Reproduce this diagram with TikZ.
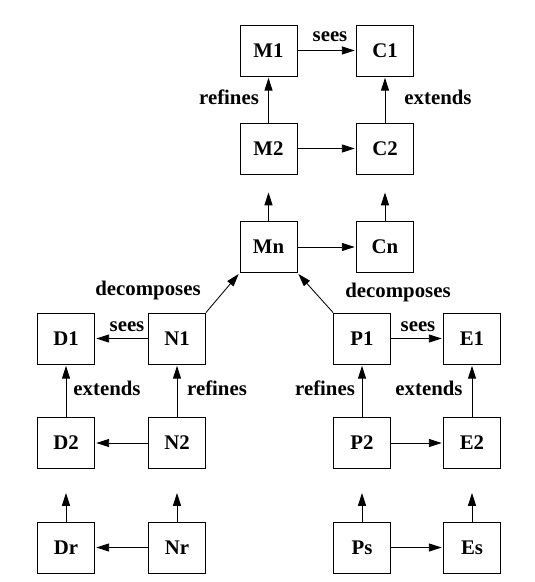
\documentclass[tikz,border=0pt]{standalone}
\usepackage{fontspec}
\setmainfont{Liberation Serif}
\usetikzlibrary{positioning, arrows.meta}

\begin{document}
\begin{tikzpicture}[x=0.025cm, y=-0.025cm,
    box/.style={draw, line width=0.6pt, minimum width=1.425cm, minimum height=1.275cm,
                inner sep=0pt, font=\fontsize{14.8}{17}\selectfont\bfseries},
    lbl/.style={inner sep=0pt, font=\fontsize{14.8}{17}\selectfont\bfseries},
    arr/.style={-{Triangle[length=0.32cm,width=0.2cm]}, line width=0.6pt, shorten >=1pt}]

    \useasboundingbox (0,0) rectangle (534,582);

    % Machine and context chain
    \node[box] (M1) at (268.5,50.5) {M1};
    \node[box] (C1) at (385,50.5) {C1};
    \node[box] (M2) at (268.5,148.5) {M2};
    \node[box] (C2) at (385,148.5) {C2};
    \node[box] (Mn) at (268.5,247) {Mn};
    \node[box] (Cn) at (385,247) {Cn};

    % Left branch
    \node[box] (D1) at (66,338.5) {D1};
    \node[box] (N1) at (177,338.5) {N1};
    \node[box] (D2) at (66,443) {D2};
    \node[box] (N2) at (177,443) {N2};
    \node[box] (Dr) at (66,547.5) {Dr};
    \node[box] (Nr) at (177,547.5) {Nr};

    % Right branch
    \node[box] (P1) at (362,338.5) {P1};
    \node[box] (E1) at (472,338.5) {E1};
    \node[box] (P2) at (362,443) {P2};
    \node[box] (E2) at (472,443) {E2};
    \node[box] (Ps) at (362,547.5) {Ps};
    \node[box] (Es) at (472,547.5) {Es};

    % Open ends above the last boxes
    \coordinate[above=0.75cm of Mn] (Mnup);
    \coordinate[above=0.75cm of Cn] (Cnup);
    \coordinate[above=0.75cm of Dr] (Drup);
    \coordinate[above=0.75cm of Nr] (Nrup);
    \coordinate[above=0.75cm of Ps] (Psup);
    \coordinate[above=0.75cm of Es] (Esup);

    % Horizontal arrows
    \draw[arr] (M1) -- (C1);
    \draw[arr] (M2) -- (C2);
    \draw[arr] (Mn) -- (Cn);
    \draw[arr] (N1) -- (D1);
    \draw[arr] (N2) -- (D2);
    \draw[arr] (Nr) -- (Dr);
    \draw[arr] (P1) -- (E1);
    \draw[arr] (P2) -- (E2);
    \draw[arr] (Ps) -- (Es);

    % Vertical arrows
    \draw[arr] (M2) -- (M1);
    \draw[arr] (C2) -- (C1);
    \draw[arr] (D2) -- (D1);
    \draw[arr] (N2) -- (N1);
    \draw[arr] (P2) -- (P1);
    \draw[arr] (E2) -- (E1);
    \draw[arr] (Mn.north) -- (Mnup);
    \draw[arr] (Cn.north) -- (Cnup);
    \draw[arr] (Dr.north) -- (Drup);
    \draw[arr] (Nr.north) -- (Nrup);
    \draw[arr] (Ps.north) -- (Psup);
    \draw[arr] (Es.north) -- (Esup);

    % Decomposition arrows
    \draw[arr] (N1.north east) -- (Mn.south west);
    \draw[arr] (P1.north west) -- (Mn.south east);

    % Labels
    \node[lbl] (seesM) at (330,37) {sees};
    \node[lbl] (refM) at (229,97) {refines};
    \node[lbl] (extC) at (438,97) {extends};
    \node[lbl] (decN) at (148,290) {decomposes};
    \node[lbl] (decP) at (398,292) {decomposes};
    \node[lbl] (seesN) at (127,327) {sees};
    \node[lbl] (seesP) at (418,327) {sees};
    \node[lbl] (extD) at (107,388) {extends};
    \node[lbl] (refN) at (217,388) {refines};
    \node[lbl] (refP) at (325,388) {refines};
    \node[lbl] (extE) at (429,388) {extends};

\end{tikzpicture}
\end{document}
